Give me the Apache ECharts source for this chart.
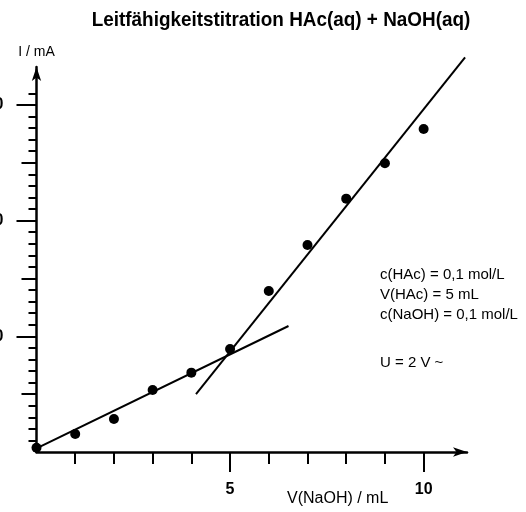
<!DOCTYPE html>
<html>
<head>
<meta charset="utf-8">
<script src="https://cdn.jsdelivr.net/npm/echarts@6/dist/echarts.min.js"></script>
<style>html,body{margin:0;padding:0;background:#fff;}#c{width:526px;height:512px;}</style>
</head>
<body>
<div id="c"></div>
<script>
// Data
const volumes = [0, 1, 2, 3, 4, 5, 6, 7, 8, 9, 10];
const currents = [0.37, 1.56, 2.85, 5.36, 6.86, 8.9, 13.92, 17.9, 21.9, 24.96, 27.92];
const fitLine1 = [[0, 0.32], [6.51, 10.89]];
const fitLine2 = [[4.12, 5.01], [11.07, 34.12]];
const xMinorTicks = [1, 2, 3, 4, 5, 6, 7, 8, 9, 10];
const xMajorTicks = [5, 10];
const yMinorTicks = [];
for (let i = 1; i <= 31; i++) yMinorTicks.push(i);
const yMediumTicks = [5, 15, 25];
const yMajorTicks = [10, 20, 30];
const titleText = 'Leitfähigkeitstitration HAc(aq) + NaOH(aq)';
const infoLines = ['c(HAc) = 0,1 mol/L', 'V(HAc) = 5 mL', 'c(NaOH) = 0,1 mol/L'];
const voltageText = 'U = 2 V ~';
const xName = 'V(NaOH) / mL';
const yName = 'I / mA';

const FONT = '"Liberation Sans", Arial, sans-serif';
const X_MAX = 11.12, Y_MAX = 33.28;

const chart = echarts.init(document.getElementById('c'), null, {renderer: 'canvas'});
const xBase = {type: 'value', min: 0, max: X_MAX, splitLine: {show: false}, gridIndex: 0};
const yBase = {type: 'value', min: 0, max: Y_MAX, splitLine: {show: false}, gridIndex: 0};
chart.setOption({
  animation: false,
  backgroundColor: '#fff',
  grid: {left: 36.5, right: 59, top: 67, bottom: 60, containLabel: false, outerBoundsMode: 'none'},
  xAxis: [
    Object.assign({}, xBase, {
      axisLine: {show: true, onZero: false, symbol: ['none', 'arrow'], symbolSize: [7, 14], lineStyle: {color: '#000', width: 2.5}},
      axisTick: {show: true, customValues: xMinorTicks, length: 12, lineStyle: {color: '#000', width: 2}},
      axisLabel: {show: false}
    }),
    Object.assign({}, xBase, {
      position: 'bottom', offset: 0,
      axisLine: {show: false, onZero: false},
      axisTick: {show: true, customValues: xMajorTicks, length: 20, lineStyle: {color: '#000', width: 2}},
      axisLabel: {show: true, customValues: xMajorTicks, margin: 30, color: '#000', fontFamily: FONT, fontWeight: 'bold', fontSize: 16}
    })
  ],
  yAxis: [
    Object.assign({}, yBase, {
      name: yName, nameLocation: 'end', nameGap: 8,
      nameTextStyle: {fontFamily: FONT, fontSize: 14, color: '#000'},
      axisLine: {show: true, onZero: false, symbol: ['none', 'arrow'], symbolSize: [7, 14], lineStyle: {color: '#000', width: 2.5}},
      axisTick: {show: true, customValues: yMinorTicks, length: 8, lineStyle: {color: '#000', width: 2}},
      axisLabel: {show: false}
    }),
    Object.assign({}, yBase, {
      position: 'left', offset: 0,
      axisLine: {show: false, onZero: false},
      axisTick: {show: true, customValues: yMediumTicks, length: 15, lineStyle: {color: '#000', width: 2}},
      axisLabel: {show: false}
    }),
    Object.assign({}, yBase, {
      position: 'left', offset: 0,
      axisLine: {show: false, onZero: false},
      axisTick: {show: true, customValues: yMajorTicks, length: 20, lineStyle: {color: '#000', width: 2}},
      axisLabel: {show: true, customValues: yMajorTicks, margin: 33, color: '#000', fontFamily: FONT, fontWeight: 'bold', fontSize: 16}
    })
  ],
  graphic: [
    {type: 'text', x: 281, y: 20, scaleX: 0.9,
     style: {text: titleText, font: 'bold 21px ' + FONT, fill: '#000', textAlign: 'center', textVerticalAlign: 'middle'}},
    {type: 'text', left: 380, top: 265, style: {text: infoLines.join('\n'), font: '15px ' + FONT, fill: '#000', lineHeight: 20}},
    {type: 'text', left: 380, top: 355, style: {text: voltageText, font: '15px ' + FONT, fill: '#000'}},
    {type: 'text', left: 287, top: 491, style: {text: xName, font: '16px ' + FONT, fill: '#000'}}
  ],
  series: [
    {type: 'line', xAxisIndex: 0, yAxisIndex: 0, data: fitLine1, symbol: 'none', clip: false,
     lineStyle: {color: '#000', width: 2}, silent: true},
    {type: 'line', xAxisIndex: 0, yAxisIndex: 0, data: fitLine2, symbol: 'none', clip: false,
     lineStyle: {color: '#000', width: 2}, silent: true},
    {type: 'scatter', xAxisIndex: 0, yAxisIndex: 0, data: volumes.map((v, i) => [v, currents[i]]),
     symbol: 'circle', symbolSize: 10, itemStyle: {color: '#000', opacity: 1}, clip: false, z: 5}
  ]
});
</script>
</body>
</html>
